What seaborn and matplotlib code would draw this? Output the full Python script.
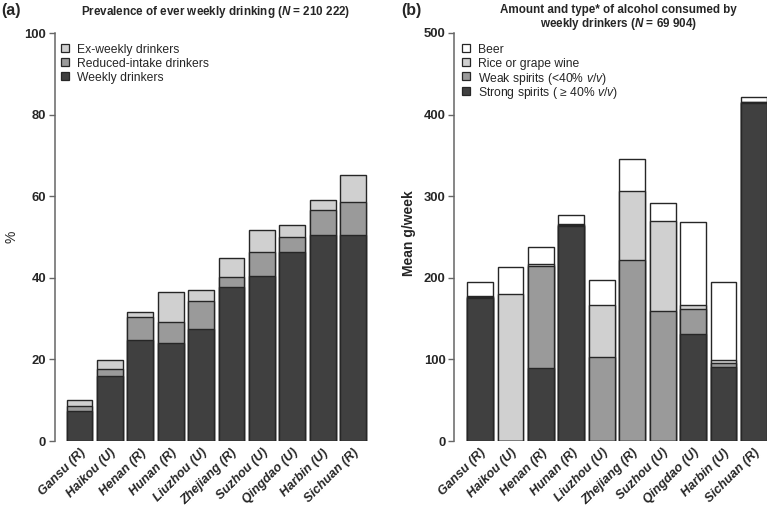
import matplotlib.pyplot as plt
import matplotlib.transforms as mtrans
import seaborn as sns
from matplotlib.patches import Rectangle

sites = ['Gansu (R)', 'Haikou (U)', 'Henan (R)', 'Hunan (R)', 'Liuzhou (U)',
         'Zhejiang (R)', 'Suzhou (U)', 'Qingdao (U)', 'Harbin (U)', 'Sichuan (R)']

# (a) prevalence, %
weekly = [7.3, 15.9, 24.7, 24.1, 27.4, 37.8, 40.4, 46.3, 50.6, 50.5]
reduced = [1.2, 1.7, 5.6, 5.1, 6.9, 2.3, 6.0, 3.7, 6.1, 8.2]
ex_weekly = [1.6, 2.2, 1.2, 7.2, 2.7, 4.8, 5.2, 3.0, 2.3, 6.5]

# (b) mean g/week by type
strong = [175, 0, 90, 263, 0, 0, 0, 131, 91, 414]
weak = [2, 0, 125, 2, 103, 222, 159, 31, 5, 1]
wine = [1, 180, 2, 1, 64, 84, 110, 5, 3, 1]
beer = [17, 33, 21, 11, 30, 40, 23, 101, 96, 5]

DARK, MID, LIGHT, WHITE = '#404040', '#9a9a9a', '#d0d0d0', '#ffffff'
EDGE = '#262626'

sns.set_style('ticks')
plt.rcParams['font.family'] = ['Liberation Sans', 'DejaVu Sans']
plt.rcParams['mathtext.fontset'] = 'custom'
plt.rcParams['mathtext.bf'] = 'Liberation Sans:italic:bold'
plt.rcParams['mathtext.it'] = 'Liberation Sans:italic'
plt.rcParams['mathtext.rm'] = 'Liberation Sans'

W, H = 767, 508
fig = plt.figure(figsize=(W / 100, H / 100), dpi=100)
ax_a = fig.add_axes([54.5 / W, 67 / H, 323.5 / W, 408 / H])
ax_b = fig.add_axes([454 / W, 67 / H, 326 / W, 408 / H])


def stack(ax, layers, colors):
    # layers bottom -> top; draw cumulative totals from tallest down
    cum = []
    run = [0] * len(sites)
    for vals in layers:
        run = [r + v for r, v in zip(run, vals)]
        cum.append(run)
    for vals, col in reversed(list(zip(cum, colors))):
        sns.barplot(x=sites, y=vals, color=col, saturation=1, width=0.85,
                    edgecolor=EDGE, linewidth=1.0, ax=ax)


def style(ax, ymax, step, xlim):
    sns.despine(ax=ax, bottom=True)
    ax.spines['left'].set_color('#666666')
    ax.spines['left'].set_linewidth(1.1)
    ax.set_ylim(0, ymax)
    ax.set_xlim(*xlim)
    ax.set_yticks(range(0, ymax + 1, step))
    ax.tick_params(axis='y', length=4, width=1, color='#666666', pad=2,
                   labelsize=9.4)
    ax.tick_params(axis='x', length=0, pad=7)
    for t in ax.get_yticklabels():
        t.set_fontweight('bold')
    ax.set_xticks(range(len(sites)))
    ax.set_xticklabels(sites, rotation=45, ha='right', va='center',
                       rotation_mode='anchor', fontstyle='italic',
                       fontweight='bold', fontsize=9.2)
    shift = mtrans.ScaledTranslation(4 / 100, 0, fig.dpi_scale_trans)
    for t in ax.get_xticklabels():
        t.set_transform(t.get_transform() + shift)
    ax.set_xlabel('')


def key(x0, y0, labels, colors):
    # legend drawn in pixel positions on the figure
    for i, (lab, col) in enumerate(zip(labels, colors)):
        yc = y0 + i * 14.1
        fig.add_artist(Rectangle((x0 / W, 1 - (yc + 4) / H), 8 / W, 8 / H,
                                 facecolor=col, edgecolor=EDGE, linewidth=0.9,
                                 transform=fig.transFigure))
        fig.text((x0 + 16) / W, 1 - yc / H, lab, fontsize=8.7, va='center_baseline')


stack(ax_a, [weekly, reduced, ex_weekly], [DARK, MID, LIGHT])
style(ax_a, 100, 20, (-0.82, 9.82))
ax_a.set_ylabel('%', fontsize=10)
ax_a.yaxis.set_label_coords(-0.11, 0.5)
key(61, 48, ['Ex-weekly drinkers', 'Reduced-intake drinkers', 'Weekly drinkers'],
    [LIGHT, MID, DARK])

stack(ax_b, [strong, weak, wine, beer], [DARK, MID, LIGHT, WHITE])
style(ax_b, 500, 100, (-0.86, 9.86))
ax_b.set_ylabel('Mean g/week', fontsize=10, fontweight='bold')
ax_b.yaxis.set_label_coords(-0.117, 0.51)
key(462, 48.3, ['Beer', 'Rice or grape wine', r'Weak spirits (<40% $\mathit{v/v}$)',
                r'Strong spirits ( ≥ 40% $\mathit{v/v}$)'],
    [WHITE, LIGHT, MID, DARK])

fig.text(216 / W, 1 - 10 / H, r'Prevalence of ever weekly drinking ($\mathbf{N}$ = 210 222)',
         fontsize=8.4, fontweight='bold', ha='center', va='center_baseline')
fig.text(618 / W, 1 - 8 / H, 'Amount and type* of alcohol consumed by',
         fontsize=8.4, fontweight='bold', ha='center', va='center_baseline')
fig.text(618 / W, 1 - 22 / H, r'weekly drinkers ($\mathbf{N}$ = 69 904)',
         fontsize=8.4, fontweight='bold', ha='center', va='center_baseline')

fig.text(1 / W, 1 - 11 / H, '(a)', fontsize=11.5, fontweight='bold', va='center')
fig.text(401 / W, 1 - 11 / H, '(b)', fontsize=11.5, fontweight='bold', va='center')

fig.savefig('out.png', dpi=100)
